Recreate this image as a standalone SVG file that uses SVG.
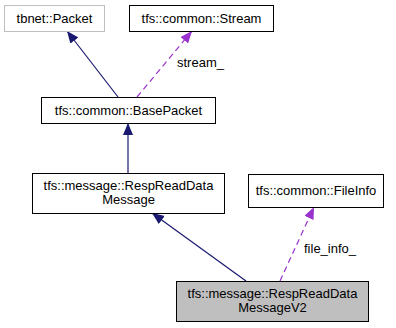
<svg xmlns="http://www.w3.org/2000/svg" width="396" height="328" viewBox="0 0 396 328">
  <style>
    .box { fill: #ffffff; stroke: #000000; stroke-width: 1; }
    .ext { fill: #ffffff; stroke: #bfbfbf; stroke-width: 1; }
    .cur { fill: #bfbfbf; stroke: #000000; stroke-width: 1; }
    text { font-family: "Liberation Sans", Arial, sans-serif; font-size: 13px; fill: #000000; text-anchor: middle; }
    .lbl { text-anchor: start; }
    .inh { stroke: #191970; stroke-width: 1.2; fill: none; }
    .use { stroke: #9a32cd; stroke-width: 1.2; fill: none; stroke-dasharray: 6,4; }
  </style>
  <defs>
    <marker id="arrInh" markerUnits="userSpaceOnUse" markerWidth="12" markerHeight="10" refX="12" refY="5" orient="auto">
      <path d="M0,0 L12,5 L0,10 z" fill="#191970"/>
    </marker>
    <marker id="arrUse" markerUnits="userSpaceOnUse" markerWidth="12" markerHeight="10" refX="12" refY="5" orient="auto">
      <path d="M0,0 L12,5 L0,10 z" fill="#9a32cd"/>
    </marker>
  </defs>

  <g id="connectors">
    <path class="inh" d="M118,97 L67,31" marker-end="url(#arrInh)"/>
    <path class="use" d="M137,97 L192,31" marker-end="url(#arrUse)"/>
    <text class="lbl" x="177" y="67">stream_</text>
    <path class="inh" d="M128,173 L128,123" marker-end="url(#arrInh)"/>
    <path class="inh" d="M246,281 L152,213" marker-end="url(#arrInh)"/>
    <path class="use" d="M280,281 L314,207" marker-end="url(#arrUse)"/>
    <text class="lbl" x="304" y="253">file_info_</text>
  </g>

  <g id="node-packet">
    <rect class="ext" x="4.5" y="5.5" width="100" height="26"/>
    <text x="54.5" y="22.5">tbnet::Packet</text>
  </g>

  <g id="node-stream">
    <rect class="box" x="129.5" y="5.5" width="144" height="26"/>
    <text x="201.5" y="22.5">tfs::common::Stream</text>
  </g>

  <g id="node-basepacket">
    <rect class="box" x="41.5" y="97.5" width="174" height="26"/>
    <text x="128.5" y="114.5">tfs::common::BasePacket</text>
  </g>

  <g id="node-respreaddatamessage">
    <rect class="box" x="32.5" y="173.5" width="192" height="40"/>
    <text x="128.5" y="190">tfs::message::RespReadData</text>
    <text x="128.5" y="204">Message</text>
  </g>

  <g id="node-fileinfo">
    <rect class="box" x="248.5" y="174.5" width="135" height="33"/>
    <text x="316" y="195">tfs::common::FileInfo</text>
  </g>

  <g id="node-respreaddatamessagev2">
    <rect class="cur" x="176.5" y="281.5" width="192" height="40"/>
    <text x="272.5" y="297.5">tfs::message::RespReadData</text>
    <text x="272.5" y="311.5">MessageV2</text>
  </g>
</svg>
